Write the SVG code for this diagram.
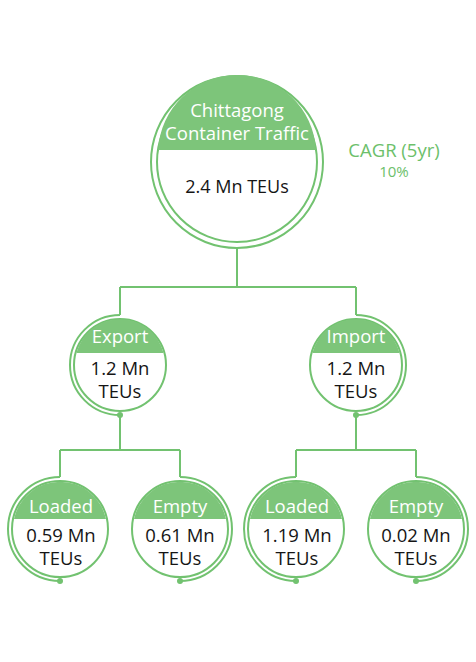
<svg xmlns="http://www.w3.org/2000/svg" width="476" height="662" viewBox="0 0 476 662">
<style>
.ln{fill:none;stroke:#72c270;stroke-width:2}
.ring{fill:#fff;stroke:#72c270;stroke-width:2}
.cap{fill:#7dc57a}
.dot{fill:#72c270}
text{font-family:"Open Sans","Liberation Sans",sans-serif;text-anchor:middle}
.w{fill:#fff}
.k{fill:#151515}
.g{fill:#6cc06a}
.t2{font-size:18.5px}
</style>
<rect width="476" height="662" fill="#fff"/>
<g id="connectors">
<path class="ln" d="M237,248 V287 M120,287 H356 M120,287 V315 M356,287 V315"/>
<path class="ln" d="M120,415 V450 M60,450 H180 M60,450 V477 M180,450 V477"/>
<path class="ln" d="M356,415 V450 M296,450 H416 M296,450 V477 M416,450 V477"/>
</g>
<g id="main">
<circle class="ring" cx="237" cy="162" r="86"/>
<circle class="ring" cx="237" cy="162" r="80"/>
<path class="cap" d="M158.1,150 A79 79 0 0 1 315.9,150 Z"/>
<text class="w" x="237" y="117" font-size="18.5">Chittagong</text>
<text class="w" x="237" y="140" font-size="18.5">Container Traffic</text>
<text class="k" x="237" y="193" font-size="18">2.4 Mn TEUs</text>
</g>
<g id="cagr">
<text class="g" x="394" y="157" font-size="18.5">CAGR (5yr)</text>
<text class="g" x="394" y="177" font-size="15">10%</text>
</g>
<g id="export">
<path class="ln" d="M120,315 A50 50 0 0 0 120,415"/>
<circle class="ring" cx="120" cy="365" r="46"/>
<path class="cap" d="M76.4,353 A45 45 0 0 1 163.6,353 Z"/>
<circle class="dot" cx="120" cy="415" r="3"/>
<text class="w t2" x="120" y="343">Export</text>
<text class="k t2" x="120" y="375">1.2 Mn</text>
<text class="k t2" x="120" y="398">TEUs</text>
</g>
<g id="import">
<path class="ln" d="M356,315 A50 50 0 0 1 356,415"/>
<circle class="ring" cx="356" cy="365" r="46"/>
<path class="cap" d="M312.4,353 A45 45 0 0 1 399.6,353 Z"/>
<circle class="dot" cx="356" cy="415" r="3"/>
<text class="w t2" x="356" y="343">Import</text>
<text class="k t2" x="356" y="375">1.2 Mn</text>
<text class="k t2" x="356" y="398">TEUs</text>
</g>
<g id="export-loaded">
<path class="ln" d="M60,477 A52 52 0 0 0 60,581"/>
<circle class="ring" cx="60" cy="529" r="48"/>
<path class="cap" d="M14,519 A47 47 0 0 1 106,519 Z"/>
<circle class="dot" cx="60" cy="581" r="3"/>
<text class="w t2" x="61" y="513">Loaded</text>
<text class="k t2" x="61" y="542">0.59 Mn</text>
<text class="k t2" x="61" y="565">TEUs</text>
</g>
<g id="export-empty">
<path class="ln" d="M180,477 A52 52 0 0 1 180,581"/>
<circle class="ring" cx="180" cy="529" r="48"/>
<path class="cap" d="M134,519 A47 47 0 0 1 226,519 Z"/>
<circle class="dot" cx="180" cy="581" r="3"/>
<text class="w t2" x="180" y="513">Empty</text>
<text class="k t2" x="180" y="542">0.61 Mn</text>
<text class="k t2" x="180" y="565">TEUs</text>
</g>
<g id="import-loaded">
<path class="ln" d="M296,477 A52 52 0 0 0 296,581"/>
<circle class="ring" cx="296" cy="529" r="48"/>
<path class="cap" d="M250,519 A47 47 0 0 1 342,519 Z"/>
<circle class="dot" cx="296" cy="581" r="3"/>
<text class="w t2" x="297" y="513">Loaded</text>
<text class="k t2" x="297" y="542">1.19 Mn</text>
<text class="k t2" x="297" y="565">TEUs</text>
</g>
<g id="import-empty">
<path class="ln" d="M416,477 A52 52 0 0 1 416,581"/>
<circle class="ring" cx="416" cy="529" r="48"/>
<path class="cap" d="M370,519 A47 47 0 0 1 462,519 Z"/>
<circle class="dot" cx="416" cy="581" r="3"/>
<text class="w t2" x="416" y="513">Empty</text>
<text class="k t2" x="416" y="542">0.02 Mn</text>
<text class="k t2" x="416" y="565">TEUs</text>
</g>
</svg>
